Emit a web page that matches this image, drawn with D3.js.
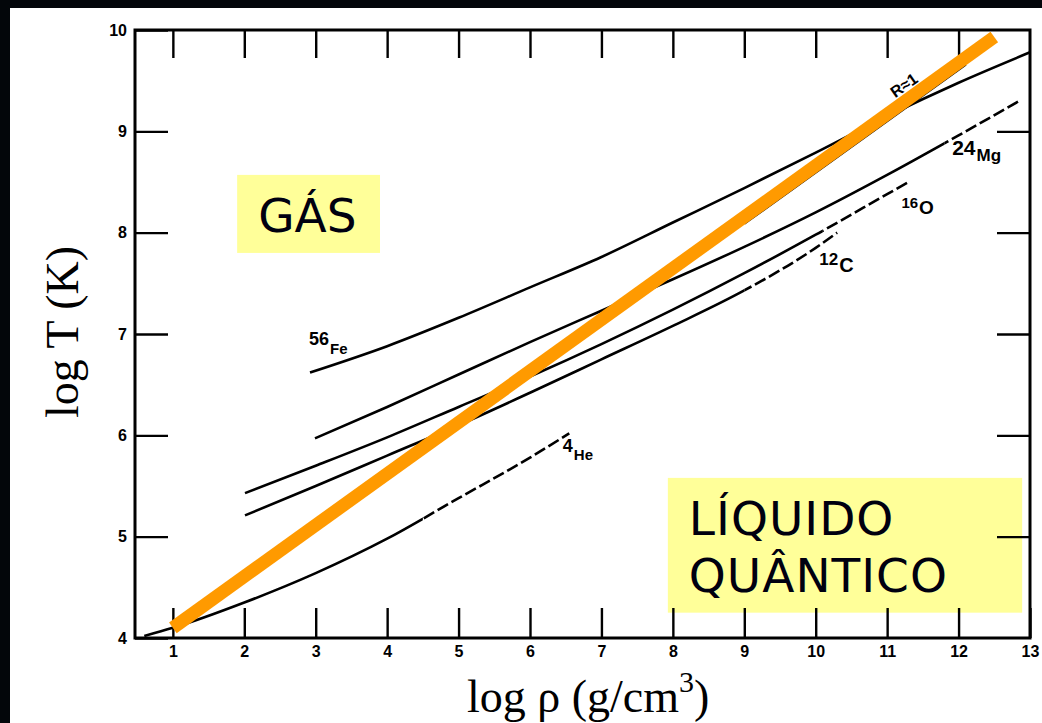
<!DOCTYPE html>
<html>
<head>
<meta charset="utf-8">
<script src="https://cdn.jsdelivr.net/npm/d3@7"></script>
<style>
    body { margin: 0; background: #03060a; }
    svg { display: block; }
</style>
</head>
<body>
<svg id="grafico" width="1042" height="723"></svg>
<script>
const heRho = [0.6, 1, 2, 3, 4, 5, 6, 6.55]
const heT = [4.02, 4.1, 4.35, 4.64, 4.98, 5.38, 5.78, 6.02]

const cRho = [2.01, 3, 4, 5, 6, 7, 8, 9, 10, 10.3]
const cT = [5.21, 5.5, 5.8, 6.1, 6.42, 6.75, 7.08, 7.43, 7.85, 8.0]

const oRho = [2.01, 3, 4, 5, 6, 7, 8, 9, 10, 11, 11.3]
const oT = [5.43, 5.7, 5.98, 6.28, 6.58, 6.9, 7.24, 7.6, 7.98, 8.38, 8.5]

const mgRho = [2.99, 4, 5, 6, 7, 8, 9, 10, 11, 12, 12.85]
const mgT = [5.97, 6.28, 6.6, 6.92, 7.23, 7.54, 7.86, 8.2, 8.57, 8.96, 9.3]

const feRho = [2.92, 4, 5, 6, 7, 8, 9, 10, 11, 12, 13]
const feT = [6.62, 6.88, 7.16, 7.46, 7.76, 8.1, 8.44, 8.79, 9.15, 9.48, 9.78]

const rUnoRho = [9.0, 12.1]
const rUnoT = [8.09, 9.66]

const naranjaRho = [1.0, 12.5]
const naranjaT = [4.1, 9.93]

/* Ticks */
const xTicks = [1, 2, 3, 4, 5, 6, 7, 8, 9, 10, 11, 12, 13]
const xTicksArriba = [1, 2, 3, 4, 5, 6, 7, 8, 9, 10, 11, 12]
const yTicks = [4, 5, 6, 7, 8, 9, 10]
const yTicksDerecha = [5, 6, 7, 8, 9]

const svg = d3.select('#grafico')

/* Fondo blanco del grafico */
svg.append('rect').attr('x', 10).attr('y', 8).attr('width', 1032).attr('height', 715).attr('fill', '#ffffff')

const x = d3.scaleLinear().domain([0.47, 13]).range([135, 1030])
const y = d3.scaleLinear().domain([4, 10]).range([638, 30])

/* Cajas amarillas */
function caja(rho0, rho1, t0, t1) {
    svg.append('rect')
        .attr('x', x(rho0)).attr('y', y(t1))
        .attr('width', x(rho1) - x(rho0)).attr('height', y(t0) - y(t1))
        .attr('fill', '#ffff99')
}
caja(1.9, 3.9, 7.8, 8.57)
caja(7.93, 12.89, 4.25, 5.58)

const fuenteCaja = "'DejaVu Sans', Verdana, sans-serif"
svg.append('text').attr('x', x(1.9) + 21).attr('y', y(7.8) - 21)
    .attr('font-family', fuenteCaja).attr('font-size', 47).attr('fill', '#000010').text('GÁS')
svg.append('text').attr('x', x(7.93) + 21).attr('y', y(5.58) + 57)
    .attr('font-family', fuenteCaja).attr('font-size', 47).attr('letter-spacing', 1).attr('fill', '#000010').text('LÍQUIDO')
svg.append('text').attr('x', x(7.93) + 21).attr('y', y(5.58) + 114)
    .attr('font-family', fuenteCaja).attr('font-size', 47).attr('letter-spacing', 1).attr('fill', '#000010').text('QUÂNTICO')

/* Curvas */
const linea = d3.line()
    .x(d => x(d[0]))
    .y(d => y(d[1]))
    .curve(d3.curveMonotoneX)

const curvas = [
    { rho: heRho, t: heT, discontinua: 4.5 },
    { rho: cRho, t: cT, discontinua: 9.0 },
    { rho: oRho, t: oT, discontinua: 10.1 },
    { rho: mgRho, t: mgT, discontinua: 11.8 },
    { rho: feRho, t: feT, discontinua: 99 },
    { rho: rUnoRho, t: rUnoT, discontinua: 99 }
]

const defs = svg.append('defs')
curvas.forEach((c, i) => {
    defs.append('clipPath').attr('id', 'solida' + i)
        .append('rect').attr('x', 0).attr('y', 0)
        .attr('width', Math.min(x(c.discontinua), 1042)).attr('height', 723)
    defs.append('clipPath').attr('id', 'rayas' + i)
        .append('rect').attr('x', Math.min(x(c.discontinua), 1042)).attr('y', 0)
        .attr('width', 1042).attr('height', 723)

    const puntos = c.rho.map((r, j) => [r, c.t[j]])
    svg.append('path').attr('d', linea(puntos))
        .attr('fill', 'none').attr('stroke', '#000').attr('stroke-width', 2.6)
        .attr('clip-path', 'url(#solida' + i + ')')
    svg.append('path').attr('d', linea(puntos))
        .attr('fill', 'none').attr('stroke', '#000').attr('stroke-width', 2.6)
        .attr('stroke-dasharray', '12 4')
        .attr('clip-path', 'url(#rayas' + i + ')')
})

/* Ejes */
const fuenteEje = "'Liberation Sans', Arial, sans-serif"
const formato = d3.format('d')

const ejeX = svg.append('g').attr('transform', 'translate(0,638)')
    .call(d3.axisBottom(x).tickValues(xTicks).tickSize(-30).tickPadding(8).tickFormat(formato))
const ejeXArriba = svg.append('g').attr('transform', 'translate(0,30)')
    .call(d3.axisTop(x).tickValues(xTicksArriba).tickSize(-28).tickFormat(''))
const ejeY = svg.append('g').attr('transform', 'translate(135,0)')
    .call(d3.axisLeft(y).tickValues(yTicks).tickSize(-33).tickPadding(8).tickFormat(formato))
const ejeYDerecha = svg.append('g').attr('transform', 'translate(1030,0)')
    .call(d3.axisRight(y).tickValues(yTicksDerecha).tickSize(-33).tickFormat(''))

;[ejeX, ejeXArriba, ejeY, ejeYDerecha].forEach(eje => {
    eje.select('.domain').remove()
    eje.selectAll('.tick line').attr('stroke', '#000').attr('stroke-width', 2.4)
    eje.selectAll('.tick text')
        .attr('font-family', fuenteEje).attr('font-weight', 'bold')
        .attr('font-size', 16).attr('fill', '#000')
})

/* Marco */
svg.append('rect').attr('x', 135).attr('y', 30).attr('width', 895).attr('height', 608)
    .attr('fill', 'none').attr('stroke', '#000').attr('stroke-width', 3)

/* Linea naranja */
svg.append('line')
    .attr('x1', x(naranjaRho[0])).attr('y1', y(naranjaT[0]))
    .attr('x2', x(naranjaRho[1])).attr('y2', y(naranjaT[1]))
    .attr('stroke', '#ff9a00').attr('stroke-width', 13)

/* Etiquetas de las curvas */
const fuenteEtiq = "'Liberation Sans', Arial, sans-serif"
function etiqueta(rho, t, sup, nombre, tamSup, tamNom, baja) {
    const txt = svg.append('text').attr('x', x(rho)).attr('y', y(t))
        .attr('font-family', fuenteEtiq).attr('font-weight', 'bold').attr('fill', '#000')
    txt.append('tspan').attr('font-size', tamSup).text(sup)
    txt.append('tspan').attr('font-size', tamNom).attr('dy', baja).attr('dx', 1).text(nombre)
}
etiqueta(2.906, 6.89, '56', 'Fe', 18, 15, 9)
etiqueta(6.46, 5.84, '4', 'He', 18, 15, 8)
etiqueta(10.05, 7.68, '12', 'C', 17, 20, 7)
etiqueta(11.2, 8.24, '16', 'O', 15, 19, 6)
etiqueta(11.91, 8.77, '24', 'Mg', 21, 17, 6)

svg.append('text')
    .attr('transform', 'translate(' + x(11.28) + ',' + y(9.41) + ') rotate(-35)')
    .attr('text-anchor', 'middle')
    .attr('font-family', fuenteEtiq).attr('font-weight', 'bold').attr('font-size', 16)
    .text('R≈1')

/* Titulos de los ejes */
const fuenteTitulo = "'Liberation Serif', 'Times New Roman', serif"
svg.append('text')
    .attr('transform', 'translate(78,332) rotate(-90)')
    .attr('text-anchor', 'middle')
    .attr('font-family', fuenteTitulo).attr('font-size', 46).attr('fill', '#000')
    .text('log T (K)')

const tituloX = svg.append('text')
    .attr('x', 467).attr('y', 712)
    .attr('font-family', fuenteTitulo).attr('font-size', 46).attr('fill', '#000')
tituloX.append('tspan').text('log ρ (g/cm')
tituloX.append('tspan').attr('font-size', 30).attr('dy', -20).text('3')
tituloX.append('tspan').attr('dy', 20).text(')')
</script>
</body>
</html>
